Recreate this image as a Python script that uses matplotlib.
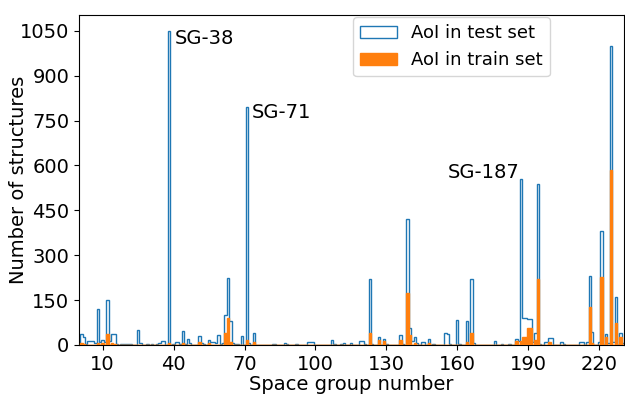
"""Histogram of structures per space group, test vs train AoI."""

import numpy as np
import matplotlib

matplotlib.use("Agg")
import matplotlib.pyplot as plt  # noqa: E402

# space groups with a non-zero count
test_sg = [1, 2, 3, 4, 5, 6, 7, 8, 9, 10, 11, 12, 13, 14, 15, 16, 18, 19, 20,
           21, 22, 25, 26, 29, 31, 33, 34, 35, 36, 38, 40, 41, 42, 43, 44, 45,
           46, 47, 51, 52, 53, 55, 56, 57, 58, 59, 60, 61, 62, 63, 64, 65, 66,
           67, 69, 71, 72, 74, 82, 83, 87, 88, 92, 97, 98, 99, 107, 108, 111,
           112, 115, 119, 120, 121, 123, 124, 127, 129, 130, 136, 137, 139,
           140, 141, 142, 143, 145, 146, 148, 150, 155, 156, 157, 160, 161,
           164, 166, 167, 176, 179, 182, 185, 186, 187, 188, 189, 190, 191,
           192, 193, 194, 195, 197, 198, 199, 200, 204, 205, 212, 213, 215,
           216, 217, 220, 221, 223, 224, 225, 226, 227, 229, 230]
test_counts = [37, 26, 3, 14, 14, 14, 5, 120, 11, 17, 10, 150, 12, 37, 37, 2,
               3, 3, 3, 3, 2, 50, 8, 2, 3, 2, 5, 13, 13, 1050, 3, 11, 11, 3,
               47, 3, 19, 5, 31, 5, 3, 17, 10, 10, 5, 33, 3, 5, 100, 223, 80,
               5, 3, 3, 31, 795, 5, 39, 3, 3, 5, 3, 2, 11, 11, 11, 17, 3, 2, 5,
               5, 13, 13, 3, 220, 3, 28, 19, 3, 33, 3, 421, 58, 13, 26, 8, 11,
               11, 19, 3, 39, 38, 3, 84, 3, 80, 219, 8, 13, 3, 3, 20, 13, 555,
               89, 89, 86, 86, 10, 39, 537, 3, 11, 11, 22, 22, 11, 3, 11, 11,
               11, 231, 44, 9, 380, 37, 5, 998, 10, 162, 39, 5]

train_sg = [1, 2, 8, 10, 12, 14, 15, 38, 44, 51, 55, 62, 63, 64, 71, 74, 123,
            127, 129, 136, 139, 140, 142, 148, 164, 166, 185, 187, 188, 189,
            190, 191, 193, 194, 199, 216, 217, 221, 223, 225, 227, 229]
train_counts = [5, 4, 8, 5, 37, 5, 4, 5, 8, 11, 8, 40, 89, 11, 17, 11, 39, 17,
                12, 17, 173, 33, 8, 8, 11, 41, 13, 13, 26, 26, 58, 58, 17, 220,
                11, 126, 5, 226, 26, 585, 72, 26]

x_ticks = [10, 40, 70, 100, 130, 160, 190, 220]
y_ticks = [0, 150, 300, 450, 600, 750, 900, 1050]

# annotated peaks: (text, x, y)
peak_labels = [("SG-38", 40.5, 1023),
               ("SG-71", 73.2, 776),
               ("SG-187", 156.0, 577)]

# one bin per space group, centred on the integer
edges = np.arange(0.5, 231.5, 1.0)
sg_all = np.arange(1, 231)
test = np.zeros(230)
test[np.array(test_sg) - 1] = test_counts
train = np.zeros(230)
train[np.array(train_sg) - 1] = train_counts

fig = plt.figure(figsize=(6.25, 3.96), dpi=100)
ax = fig.add_axes([0.1264, 0.1288, 0.872, 0.8333])

ax.hist(sg_all, bins=edges, weights=test, histtype="step", color="#1f77b4",
        linewidth=1.0, label="AoI in test set", zorder=2)
ax.hist(sg_all, bins=edges, weights=train, histtype="stepfilled",
        facecolor="#ff7f0e", edgecolor="#ff7f0e", linewidth=1.0,
        label="AoI in train set", zorder=3)

for txt, x, y in peak_labels:
    ax.text(x, y, txt, fontsize=14, ha="left", va="center")

ax.set_xlim(0, 230.5)
ax.set_ylim(0, 1103)
ax.set_xticks(x_ticks)
ax.set_yticks(y_ticks)
ax.tick_params(labelsize=14)
ax.set_xlabel("Space group number", fontsize=14, labelpad=1)
ax.set_ylabel("Number of structures", fontsize=14)
ax.yaxis.set_label_coords(-0.094, 0.5)
ax.legend(loc="upper right", bbox_to_anchor=(0.864, 0.994), borderaxespad=0,
          fontsize=13)

fig.savefig("out.png", dpi=100)
plt.close(fig)
